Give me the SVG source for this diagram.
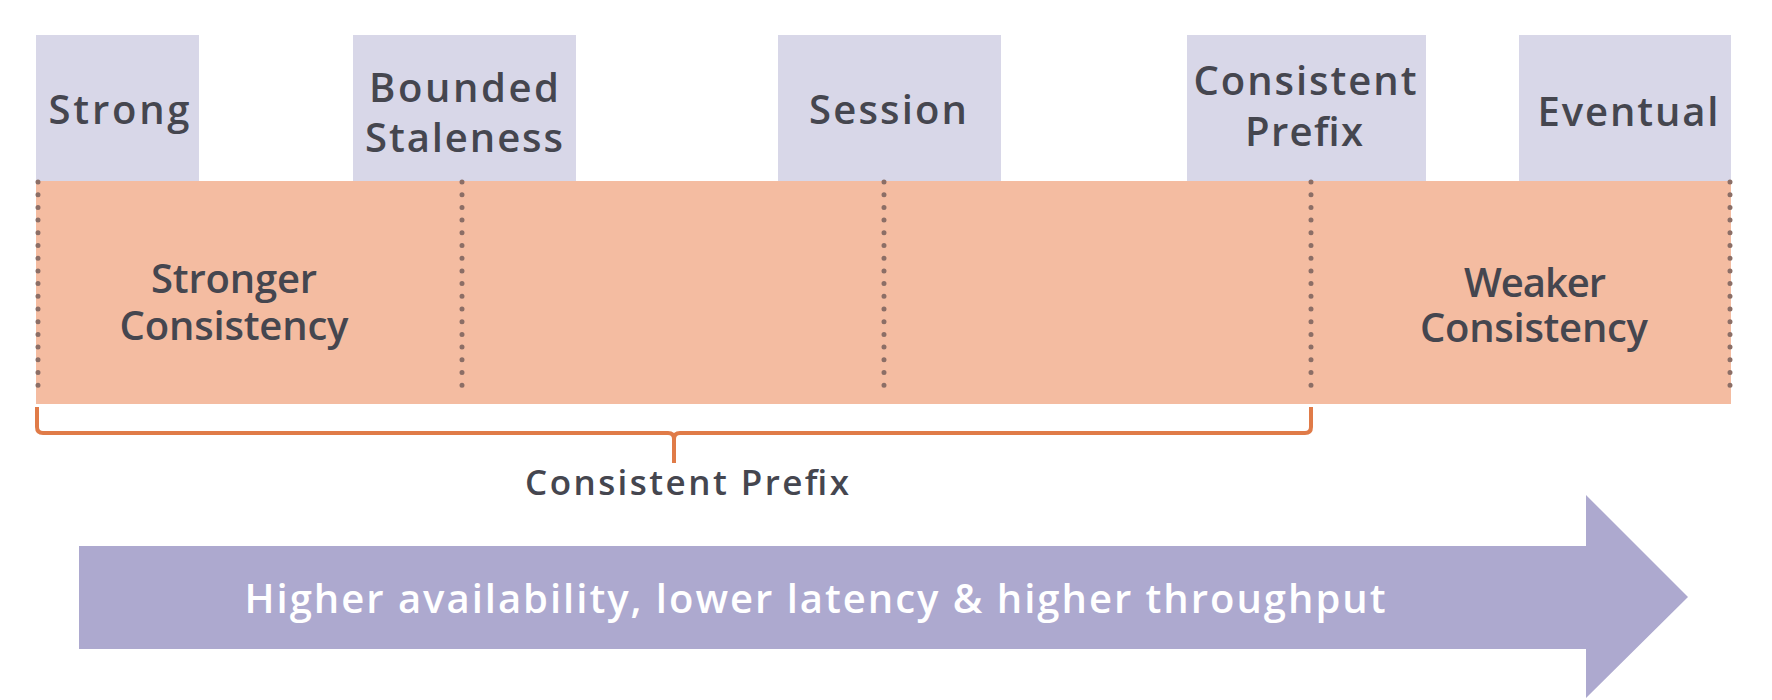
<svg xmlns="http://www.w3.org/2000/svg" width="1772" height="700" viewBox="0 0 1772 700">
<style>
.box{fill:#d8d7e8}
.lbl{font-family:"Open Sans","Liberation Sans",sans-serif;font-weight:600;font-size:40px;fill:#45464f;text-anchor:middle}
.dots{stroke:#8b6e66;stroke-width:5;stroke-linecap:round;stroke-dasharray:0 12.7;fill:none}
.brace{stroke:#e07b48;stroke-width:4;fill:none;stroke-linejoin:round}
</style>
<rect width="1772" height="700" fill="#ffffff"/>
<g id="band">
<rect x="36" y="181" width="1695" height="223" fill="#f4bca1"/>
</g>
<g id="node-strong">
<rect class="box" x="36" y="35" width="163" height="146"/>
<text class="lbl" x="119" y="124" textLength="141" lengthAdjust="spacing">Strong</text>
</g>
<g id="node-bounded">
<rect class="box" x="353" y="35" width="223" height="146"/>
<text class="lbl" x="464" y="102" textLength="190" lengthAdjust="spacing">Bounded</text>
<text class="lbl" x="464" y="152" textLength="198" lengthAdjust="spacing">Staleness</text>
</g>
<g id="node-session">
<rect class="box" x="778" y="35" width="223" height="146"/>
<text class="lbl" x="888" y="124" textLength="158" lengthAdjust="spacing">Session</text>
</g>
<g id="node-prefix">
<rect class="box" x="1187" y="35" width="239" height="146"/>
<text class="lbl" x="1305" y="95" textLength="223" lengthAdjust="spacing">Consistent</text>
<text class="lbl" x="1304" y="146" textLength="118" lengthAdjust="spacing">Prefix</text>
</g>
<g id="node-eventual">
<rect class="box" x="1519" y="35" width="212" height="146"/>
<text class="lbl" x="1628" y="126" textLength="181" lengthAdjust="spacing">Eventual</text>
</g>
<g id="label-stronger">
<text class="lbl" x="234" y="293" textLength="166" lengthAdjust="spacing">Stronger</text>
<text class="lbl" x="234" y="340" textLength="229" lengthAdjust="spacing">Consistency</text>
</g>
<g id="label-weaker">
<text class="lbl" x="1535" y="297" textLength="142" lengthAdjust="spacing">Weaker</text>
<text class="lbl" x="1534" y="342" textLength="228" lengthAdjust="spacing">Consistency</text>
</g>
<g id="connectors">
<path class="dots" d="M38 182V388M462 182V388M884 182V388M1311 182V388M1730 182V388"/>
<path class="brace" d="M37 407V427Q37 433 43 433H668Q674 433 674 439V463M674 439Q674 433 680 433H1305Q1311 433 1311 427V407"/>
</g>
<g id="label-prefix">
<text class="lbl" x="687" y="495" style="font-size:35px" textLength="324" lengthAdjust="spacing">Consistent Prefix</text>
</g>
<g id="arrow">
<polygon points="79,546 1586,546 1586,495 1688,597 1586,698 1586,649 79,649" fill="#ada9cf"/>
<text x="815" y="613" textLength="1141" lengthAdjust="spacing" style="font-family:'Open Sans','Liberation Sans',sans-serif;font-weight:600;font-size:40px;fill:#ffffff;text-anchor:middle">Higher availability, lower latency &amp; higher throughput</text>
</g>
</svg>
